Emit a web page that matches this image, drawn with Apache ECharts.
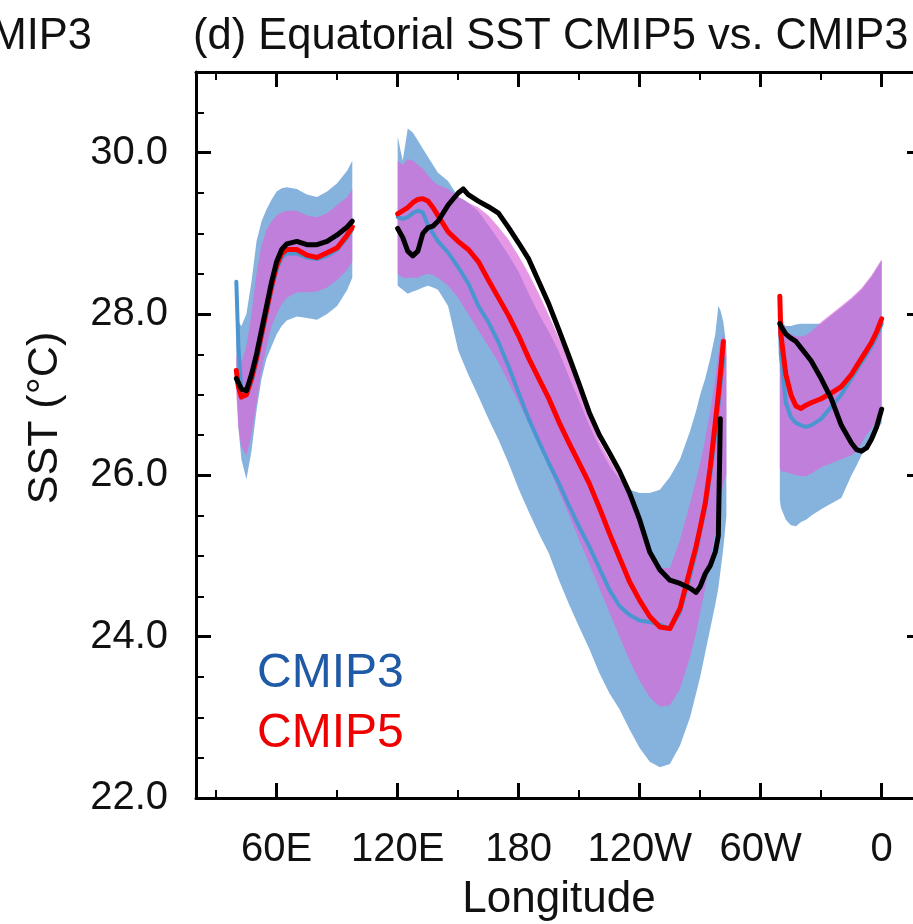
<!DOCTYPE html>
<html><head><meta charset="utf-8">
<script src="https://cdn.jsdelivr.net/npm/echarts@6/dist/echarts.min.js"></script>
<style>html,body{margin:0;padding:0;background:#fff}#c{width:913px;height:924px}</style>
</head><body><div id="c"></div>
<script>
// ---------- Indian Ocean ----------
const lonIO   = [40, 41, 42.5, 45, 47.5, 50, 52.5, 55, 57.5, 60, 62.5, 65, 70, 75, 80, 85, 90, 95, 97.5];
const obsIO   = [27.2, 27.15, 27.07, 27.05, 27.25, 27.5, 27.8, 28.1, 28.4, 28.65, 28.8, 28.87, 28.9, 28.86, 28.86, 28.9, 28.98, 29.08, 29.15];
const cmip5IO = [27.3, 27.1, 26.97, 27.0, 27.2, 27.45, 27.75, 28.05, 28.35, 28.6, 28.75, 28.8, 28.8, 28.73, 28.7, 28.76, 28.82, 28.98, 29.08];
const cmip3IO = [28.4, 27.6, 27.05, 27.0, 27.15, 27.4, 27.7, 28.0, 28.3, 28.55, 28.7, 28.75, 28.75, 28.7, 28.68, 28.72, 28.8, 28.95, 29.05];
const c3HiIO  = [28.45, 27.9, 27.85, 28.0, 28.4, 28.9, 29.15, 29.3, 29.42, 29.52, 29.56, 29.57, 29.55, 29.48, 29.45, 29.52, 29.62, 29.78, 29.9];
const c3LoIO  = [27.2, 26.6, 26.2, 25.95, 26.3, 26.8, 27.2, 27.45, 27.6, 27.75, 27.85, 27.92, 27.97, 27.95, 27.93, 28.0, 28.1, 28.3, 28.45];
const c5HiIO  = [27.5, 27.4, 27.4, 27.6, 28.0, 28.5, 28.85, 29.05, 29.15, 29.22, 29.26, 29.28, 29.28, 29.22, 29.2, 29.25, 29.35, 29.45, 29.55];
const c5LoIO  = [27.0, 26.6, 26.35, 26.25, 26.5, 26.9, 27.3, 27.6, 27.85, 28.0, 28.12, 28.2, 28.27, 28.27, 28.28, 28.33, 28.42, 28.55, 28.65];

// ---------- Pacific ----------
const lonPAC   = [120, 122.5, 125, 127.5, 130, 132.5, 135, 137.5, 140, 145, 150, 152.5, 155, 160, 165, 170, 175, 180, 185, 190, 195, 200, 205, 210, 215, 220, 225, 230, 235, 240, 245, 250, 255, 260, 265, 268, 270, 272.5, 275, 277.5, 279, 280, 281.5, 283];
const obsPAC   = [29.06, 28.95, 28.78, 28.72, 28.78, 29.0, 29.07, 29.09, 29.15, 29.35, 29.5, 29.55, 29.48, 29.4, 29.33, 29.25, 29.07, 28.88, 28.68, 28.4, 28.12, 27.8, 27.47, 27.13, 26.78, 26.5, 26.28, 26.05, 25.78, 25.45, 25.05, 24.83, 24.7, 24.66, 24.6, 24.55, 24.62, 24.78, 24.88, 25.05, 25.25, 26.7, null, null];
const cmip5PAC = [29.24, 29.28, 29.32, 29.38, 29.42, 29.43, 29.4, 29.32, 29.22, 29.02, 28.9, 28.85, 28.8, 28.65, 28.42, 28.2, 27.98, 27.73, 27.45, 27.2, 26.95, 26.66, 26.4, 26.15, 25.9, 25.6, 25.28, 24.98, 24.68, 24.45, 24.25, 24.12, 24.1, 24.35, 24.83, 25.12, 25.35, 25.65, 26.1, 26.65, 27.0, 27.25, 27.66, null];
const cmip3PAC = [29.2, 29.18, 29.2, 29.25, 29.28, 29.26, 29.1, 29.0, 28.9, 28.76, 28.58, 28.48, 28.38, 28.1, 27.9, 27.65, 27.35, 27.02, 26.7, 26.42, 26.15, 25.9, 25.62, 25.36, 25.12, 24.85, 24.58, 24.38, 24.27, 24.2, 24.18, 24.15, 24.1, 24.3, 24.75, 25.05, 25.3, 25.6, 26.0, 26.5, 26.85, 27.1, 27.45, null];
const c3HiPAC  = [30.2, 29.9, 30.3, 30.25, 30.15, 30.05, 29.95, 29.85, 29.75, 29.65, 29.45, 29.42, 29.38, 29.27, 29.1, 28.92, 28.73, 28.52, 28.25, 28.0, 27.78, 27.53, 27.22, 26.92, 26.62, 26.35, 26.12, 25.95, 25.82, 25.78, 25.78, 25.82, 25.98, 26.2, 26.55, 26.8, 27.0, 27.2, 27.45, 27.75, 28.1, 28.05, 27.9, 27.6];
const c3LoPAC  = [28.35, 28.3, 28.25, 28.28, 28.3, 28.33, 28.35, 28.33, 28.3, 28.1, 27.55, 27.4, 27.25, 26.98, 26.7, 26.44, 26.15, 25.83, 25.55, 25.28, 25.03, 24.7, 24.4, 24.12, 23.85, 23.55, 23.3, 23.1, 22.85, 22.62, 22.45, 22.38, 22.42, 22.65, 23.0, 23.3, 23.5, 23.8, 24.1, 24.4, 24.6, 24.8, 25.1, 25.5];
const c5HiPAC  = [29.9, 29.85, 29.92, 29.9, 29.85, 29.8, 29.72, 29.65, 29.6, 29.55, 29.45, 29.42, 29.38, 29.32, 29.22, 29.08, 28.92, 28.72, 28.5, 28.25, 27.98, 27.7, 27.4, 27.08, 26.72, 26.42, 26.2, 25.98, 25.72, 25.42, 25.05, 24.85, 24.85, 25.2, 25.65, 25.95, 26.15, 26.45, 26.8, 27.2, 27.5, 27.65, 27.75, 27.5];
const c5LoPAC  = [28.5, 28.45, 28.45, 28.45, 28.45, 28.48, 28.5, 28.48, 28.45, 28.35, 28.2, 28.1, 28.0, 27.8, 27.6, 27.4, 27.15, 26.9, 26.65, 26.4, 26.1, 25.8, 25.5, 25.2, 24.9, 24.6, 24.3, 24.0, 23.7, 23.45, 23.25, 23.13, 23.15, 23.35, 23.75, 24.05, 24.3, 24.6, 24.95, 25.3, 25.55, 25.7, 25.9, 26.0];

// ---------- Atlantic ----------
const lonATL   = [309.5, 310, 312.5, 315, 317.5, 320, 322.5, 325, 330, 335, 340, 345, 347.5, 350, 352.5, 355, 357.5, 360];
const obsATL   = [27.88, 27.85, 27.75, 27.7, 27.66, 27.58, 27.5, 27.42, 27.2, 26.95, 26.62, 26.4, 26.32, 26.3, 26.34, 26.45, 26.6, 26.82];
const cmip5ATL = [28.22, 27.75, 27.25, 27.0, 26.86, 26.83, 26.87, 26.9, 26.95, 27.02, 27.1, 27.25, 27.35, 27.45, 27.55, 27.65, 27.78, 27.94];
const cmip3ATL = [28.0, 27.5, 26.9, 26.72, 26.65, 26.62, 26.6, 26.62, 26.7, 26.85, 27.0, 27.2, 27.3, 27.4, 27.5, 27.6, 27.72, 27.88];
const c3HiATL  = [28.1, 27.9, 27.85, 27.85, 27.87, 27.88, 27.88, 27.88, 27.88, 27.98, 28.08, 28.18, 28.24, 28.3, 28.38, 28.46, 28.56, 28.66];
const c3LoATL  = [25.7, 25.6, 25.45, 25.38, 25.37, 25.42, 25.45, 25.5, 25.58, 25.65, 25.72, 26.0, 26.12, 26.25, 26.35, 26.45, 26.55, 26.65];
const c5HiATL  = [28.25, 28.0, 27.8, 27.75, 27.72, 27.72, 27.74, 27.78, 27.9, 28.0, 28.1, 28.2, 28.26, 28.32, 28.4, 28.48, 28.58, 28.68];
const c5LoATL  = [26.1, 26.05, 26.04, 26.02, 26.0, 25.99, 25.99, 26.02, 26.1, 26.15, 26.2, 26.25, 26.3, 26.4, 26.5, 26.58, 26.67, 26.75];

// ---------- ticks ----------
const xTickValues = [60, 120, 180, 240, 300, 360];
const xTickLabels = ['60E', '120E', '180', '120W', '60W', '0'];
const xMinorTicks = [30, 90, 150, 210, 270, 330];
const yTickValues = [22, 24, 26, 28, 30];
const yMinorTicks = [22.5, 23, 23.5, 24.5, 25, 25.5, 26.5, 27, 27.5, 28.5, 29, 29.5, 30.5];

// ---------- assemble ----------
const lon = lonIO.concat([108], lonPAC, [296], lonATL);
const join = (a, b, c) => a.concat([null], b, [null], c);
const obs = join(obsIO, obsPAC, obsATL);
const cmip5 = join(cmip5IO, cmip5PAC, cmip5ATL);
const cmip3 = join(cmip3IO, cmip3PAC, cmip3ATL);
const c3Hi = join(c3HiIO, c3HiPAC, c3HiATL);
const c3Lo = join(c3LoIO, c3LoPAC, c3LoATL);
const c5Hi = join(c5HiIO, c5HiPAC, c5HiATL);
const c5Lo = join(c5LoIO, c5LoPAC, c5LoATL);

const pairs = v => lon.map((x, i) => [x, v[i] == null ? '-' : v[i]]);

function runsOf(hi, lo) {
  const runs = []; let s = -1;
  for (let i = 0; i <= lon.length; i++) {
    const ok = i < lon.length && hi[i] != null && lo[i] != null;
    if (ok && s < 0) s = i;
    if (!ok && s >= 0) { runs.push([s, i - 1]); s = -1; }
  }
  return runs;
}

const FONT = 'Liberation Sans, Arial, Helvetica, sans-serif';

function band(name, hi, lo, color, z) {
  const runs = runsOf(hi, lo);
  return {
    type: 'custom', name: name, z: z, silent: true,
    xAxisIndex: 0, yAxisIndex: 0,
    data: runs.map(r => [lon[r[0]], lo[r[0]]]),
    renderItem: function (params, api) {
      const r = runs[params.dataIndex];
      const top = [], bot = [];
      for (let i = r[0]; i <= r[1]; i++) {
        top.push(api.coord([lon[i], hi[i]]));
        bot.push(api.coord([lon[i], lo[i]]));
      }
      return { type: 'polygon', shape: { points: top.concat(bot.reverse()) }, style: { fill: color, stroke: null } };
    }
  };
}

function line(name, v, color, width, z) {
  return {
    type: 'line', name: name, data: pairs(v), z: z,
    showSymbol: false, symbol: 'none', connectNulls: false, smooth: false,
    lineStyle: { color: color, width: width, join: 'round', cap: 'round' },
    xAxisIndex: 0, yAxisIndex: 0, silent: true
  };
}

const axLine = { show: true, lineStyle: { color: '#000', width: 3 } };
const xBase = { type: 'value', min: 20, max: 380, splitLine: { show: false } };
const yBase = { type: 'value', min: 22, max: 31, splitLine: { show: false } };

const chart = echarts.init(document.getElementById('c'), null, { renderer: 'canvas' });
chart.setOption({
  animation: false,
  backgroundColor: '#fff',
  title: {
    text: '(d) Equatorial SST CMIP5 vs. CMIP3', left: 188, top: 10,
    textStyle: { fontSize: 43.5, fontWeight: 'normal', color: '#111', fontFamily: FONT }
  },
  grid: { left: 196, width: 726, top: 72, height: 726, containLabel: false, outerBoundsMode: 'none' },
  xAxis: [
    Object.assign({}, xBase, {
      position: 'bottom', axisLine: axLine,
      axisTick: { show: true, inside: true, length: 15, customValues: xTickValues, lineStyle: { color: '#000', width: 3 } },
      axisLabel: { show: true, customValues: xTickValues, margin: 32, fontSize: 40, color: '#111', fontFamily: FONT,
        formatter: v => xTickLabels[xTickValues.indexOf(v)] },
      name: 'Longitude', nameLocation: 'middle', nameGap: 80,
      nameTextStyle: { fontSize: 44, color: '#111', fontFamily: FONT }
    }),
    Object.assign({}, xBase, {
      position: 'bottom', axisLine: { show: false },
      axisTick: { show: true, inside: true, length: 8, customValues: xMinorTicks, lineStyle: { color: '#000', width: 2 } },
      axisLabel: { show: false }
    }),
    Object.assign({}, xBase, {
      position: 'top', axisLine: axLine,
      axisTick: { show: true, inside: true, length: 15, customValues: xTickValues, lineStyle: { color: '#000', width: 3 } },
      axisLabel: { show: false }
    }),
    Object.assign({}, xBase, {
      position: 'top', axisLine: { show: false },
      axisTick: { show: true, inside: true, length: 8, customValues: xMinorTicks, lineStyle: { color: '#000', width: 2 } },
      axisLabel: { show: false }
    })
  ],
  yAxis: [
    Object.assign({}, yBase, {
      position: 'left', axisLine: axLine,
      axisTick: { show: true, inside: true, length: 15, customValues: yTickValues, lineStyle: { color: '#000', width: 3 } },
      axisLabel: { show: true, customValues: yTickValues, margin: 28, fontSize: 40, color: '#111', fontFamily: FONT,
        formatter: v => Number(v).toFixed(1) }
    }),
    Object.assign({}, yBase, {
      position: 'left', axisLine: { show: false },
      axisTick: { show: true, inside: true, length: 8, customValues: yMinorTicks, lineStyle: { color: '#000', width: 2 } },
      axisLabel: { show: false }
    }),
    Object.assign({}, yBase, {
      position: 'right', axisLine: axLine,
      axisTick: { show: true, inside: true, length: 15, customValues: yTickValues, lineStyle: { color: '#000', width: 3 } },
      axisLabel: { show: false }
    }),
    Object.assign({}, yBase, {
      position: 'right', axisLine: { show: false },
      axisTick: { show: true, inside: true, length: 8, customValues: yMinorTicks, lineStyle: { color: '#000', width: 2 } },
      axisLabel: { show: false }
    })
  ],
  graphic: [
    { type: 'text', x: 92, y: 37, style: { text: 'MIP3', fontSize: 43.5, fill: '#111', fontFamily: FONT, align: 'right', verticalAlign: 'middle' } },
    { type: 'text', x: 45, y: 418, rotation: Math.PI / 2, style: { text: 'SST (°C)', fontSize: 43, fill: '#111', fontFamily: FONT, align: 'center', verticalAlign: 'middle' } },
    { type: 'text', x: 257, y: 674, style: { text: 'CMIP3', fontSize: 48, fill: '#1f5aa6', fontFamily: FONT, align: 'left', verticalAlign: 'middle' } },
    { type: 'text', x: 257, y: 734, style: { text: 'CMIP5', fontSize: 48, fill: '#ee0000', fontFamily: FONT, align: 'left', verticalAlign: 'middle' } }
  ],
  series: [
    band('CMIP3 spread', c3Hi, c3Lo, '#86b3de', 1),
    band('CMIP5 spread', c5Hi, c5Lo, 'rgba(218,101,218,0.68)', 2),
    line('CMIP3', cmip3, '#4b96d1', 4, 3),
    line('CMIP5', cmip5, '#ff0000', 5, 4),
    line('Observed', obs, '#000000', 5, 5)
  ]
});
</script>
</body></html>
